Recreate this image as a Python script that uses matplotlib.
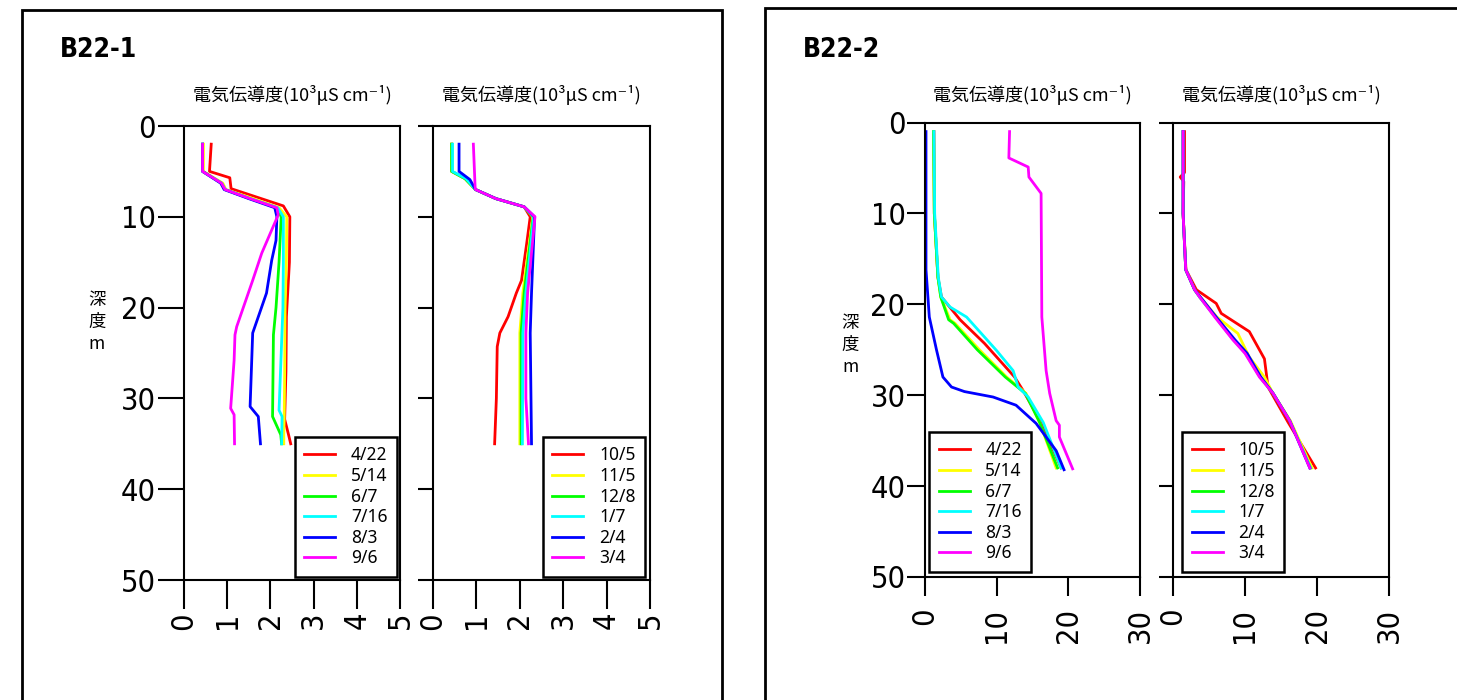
import matplotlib
matplotlib.use("Agg")
import os
import matplotlib.pyplot as plt
from matplotlib import font_manager as fm
from matplotlib.patches import Rectangle

# look for a narrow face for the digits (the reference uses a condensed font)
_files = fm.findSystemFonts()
_pick = {}
for f in _files:
    b = os.path.basename(f)
    _pick.setdefault(b, f)
NARROW_FILE = None
NARROW_BOLD_FILE = None
for cand in ['LiberationSansNarrow-Regular.ttf', 'DejaVuSansCondensed.ttf']:
    if cand in _pick:
        NARROW_FILE = _pick[cand]
        break
for cand in ['LiberationSansNarrow-Bold.ttf', 'DejaVuSansCondensed-Bold.ttf']:
    if cand in _pick:
        NARROW_BOLD_FILE = _pick[cand]
        break


def narrow(size, bold=False):
    f = NARROW_BOLD_FILE if bold else NARROW_FILE
    if f:
        return fm.FontProperties(fname=f, size=size)
    return fm.FontProperties(family='DejaVu Sans', size=size,
                             weight='bold' if bold else 'normal')


JP = ['Noto Sans CJK JP', 'DejaVu Sans']

W, H = 1457, 700

colors = ['#ff0000', '#ffff00', '#00ff00', '#00ffff', '#0000ff', '#ff00ff']
labels_a = ['4/22', '5/14', '6/7', '7/16', '8/3', '9/6']
labels_b = ['10/5', '11/5', '12/8', '1/7', '2/4', '3/4']
header = '電気伝導度(10³μS cm⁻¹)'
depth_ticks = [0, 10, 20, 30, 40, 50]
ticks_1 = [0, 1, 2, 3, 4, 5]
ticks_2 = [0, 10, 20, 30]

# ---- B22-1, left panel (4/22 .. 9/6) : depth (m), EC (10^3 uS/cm)
b1a_depth = [
    [2, 5, 5.7, 6.9, 8.8, 10, 15, 21, 27, 32.3, 34, 35],
    [2, 5, 6.3, 7, 8, 9, 10, 15, 20, 27, 32, 34, 35],
    [2, 5, 6.3, 7, 8, 9, 10, 15, 20, 23, 32, 34, 35],
    [2, 5, 6.3, 7, 8, 9, 10, 15, 20, 31.3, 32, 35],
    [2, 5, 6.3, 7, 8, 9, 10, 12.6, 14.8, 18.4, 22.8, 30.9, 32, 35],
    [2, 5, 6.3, 7, 8, 9, 9.8, 14, 17, 22.1, 23, 25.8, 31.1, 31.8, 35],
]
b1a_val = [
    [0.63, 0.59, 1.06, 1.09, 2.3, 2.45, 2.44, 2.37, 2.36, 2.33, 2.42, 2.47],
    [0.45, 0.45, 0.9, 0.97, 1.6, 2.2, 2.38, 2.37, 2.34, 2.33, 2.32, 2.31, 2.31],
    [0.43, 0.43, 0.87, 0.95, 1.53, 2.15, 2.25, 2.2, 2.13, 2.07, 2.05, 2.24, 2.26],
    [0.43, 0.43, 0.87, 0.95, 1.53, 2.17, 2.3, 2.3, 2.29, 2.2, 2.27, 2.26],
    [0.43, 0.43, 0.85, 0.93, 1.5, 2.1, 2.15, 2.13, 2.03, 1.91, 1.59, 1.53, 1.72, 1.77],
    [0.43, 0.43, 0.87, 0.95, 1.53, 2.15, 2.18, 1.8, 1.59, 1.22, 1.18, 1.16, 1.08, 1.16, 1.17],
]

# ---- B22-1, right panel (10/5 .. 3/4)
b1b_depth = [
    [2, 5, 5.8, 7, 8, 8.9, 10, 12.9, 17, 18.4, 21, 22.8, 24.3, 30, 35],
    [2, 5, 5.8, 7, 8, 8.9, 10, 18.4, 22.8, 35],
    [2, 5, 5.8, 7, 8, 8.9, 10, 18.4, 22.8, 35],
    [2, 5, 5.8, 7, 8, 8.9, 10, 18.4, 22.8, 35],
    [2, 5, 5.9, 7, 8, 8.9, 10, 18.4, 22.8, 35],
    [2, 6.7, 7, 8, 8.9, 10, 18.4, 22.8, 30, 35],
]
b1b_val = [
    [0.43, 0.43, 0.74, 0.98, 1.45, 2.1, 2.24, 2.16, 2.04, 1.92, 1.73, 1.54, 1.48, 1.46, 1.42],
    [0.43, 0.43, 0.74, 0.98, 1.45, 2.1, 2.3, 2.07, 2.0, 2.0],
    [0.43, 0.43, 0.74, 0.98, 1.45, 2.1, 2.31, 2.1, 2.03, 2.03],
    [0.45, 0.45, 0.76, 0.98, 1.45, 2.1, 2.32, 2.14, 2.07, 2.06],
    [0.6, 0.6, 0.85, 0.98, 1.45, 2.1, 2.34, 2.27, 2.24, 2.27],
    [0.93, 0.97, 0.98, 1.45, 2.1, 2.35, 2.18, 2.14, 2.14, 2.2],
]

# ---- B22-2, left panel (4/22 .. 9/6)
b2a_depth = [
    [1, 10, 17, 19.2, 21.7, 24.3, 28, 29.5, 33, 38],
    [1, 10, 17, 19.2, 21.7, 22.1, 25, 28, 29.8, 33, 38],
    [1, 10, 17, 19.2, 21.7, 22.1, 25, 28, 29.8, 33, 38],
    [1, 10, 17, 19.2, 20.3, 21.4, 23.6, 25.1, 27.3, 29.1, 30.2, 33, 38],
    [1, 16.2, 21.4, 25, 28, 29.1, 29.6, 30.2, 31.1, 33.1, 36.1, 38.2],
    [1, 3.9, 4.9, 6.0, 7.8, 21.4, 27.3, 29.8, 32.8, 33.3, 34.6, 36.4, 38.1],
]
b2a_val = [
    [1.25, 1.3, 1.8, 2.3, 4.9, 8.3, 12.5, 13.7, 16.2, 19.0],
    [1.2, 1.3, 1.8, 2.2, 3.5, 4.2, 7.6, 11.4, 14.1, 16.0, 18.3],
    [1.2, 1.3, 1.8, 2.2, 3.3, 4.0, 7.3, 11.2, 14.0, 16.0, 18.5],
    [1.25, 1.35, 1.85, 2.3, 3.5, 5.8, 8.3, 10.0, 12.3, 13.0, 14.4, 16.5, 19.0],
    [0.14, 0.14, 0.6, 1.6, 2.5, 3.7, 5.5, 9.5, 12.7, 15.5, 18.3, 19.4],
    [11.8, 11.7, 14.4, 14.5, 16.2, 16.3, 16.9, 17.4, 18.3, 18.75, 18.75, 19.7, 20.6],
]

# ---- B22-2, right panel (10/5 .. 3/4)
b2b_depth = [
    [1, 5.5, 6, 6.5, 10, 16.2, 18.4, 19.9, 21, 23, 26, 29.1, 33, 38],
    [1, 10, 16.2, 18.4, 19.2, 21.4, 23.2, 25.8, 28, 29.8, 32.8, 38],
    [1, 10, 16.2, 18.4, 19.2, 21.4, 23.9, 25.4, 28, 29.8, 32.8, 38],
    [1, 10, 16.2, 18.4, 19.2, 21.4, 23.9, 25.4, 28, 29.8, 32.8, 38],
    [1, 10, 16.2, 18.4, 19.2, 21.4, 23.9, 25.4, 28, 29.8, 32.8, 38],
    [1, 10, 16.2, 18.4, 19.2, 21.4, 23.9, 25.4, 28, 29.8, 32.8, 38],
]
b2b_val = [
    [1.6, 1.6, 1.0, 1.5, 1.4, 1.8, 3.25, 6.0, 6.7, 10.6, 12.7, 13.2, 16.0, 19.8],
    [1.4, 1.4, 1.77, 3.0, 3.8, 6.1, 9.0, 10.6, 12.7, 13.9, 16.3, 19.3],
    [1.4, 1.4, 1.77, 3.0, 3.7, 5.9, 8.4, 10.1, 12.1, 13.9, 16.2, 19.1],
    [1.4, 1.4, 1.77, 3.0, 3.7, 5.9, 8.4, 10.1, 12.1, 13.9, 16.2, 19.1],
    [1.4, 1.4, 1.77, 3.0, 3.8, 6.0, 8.6, 10.3, 12.2, 13.9, 16.2, 19.0],
    [1.4, 1.4, 1.77, 3.0, 3.7, 5.8, 8.3, 10.0, 12.0, 13.9, 16.2, 19.0],
]

fig = plt.figure(figsize=(W / 100, H / 100), dpi=100)


def rect(left, right, top, bottom):
    return [left / W, 1 - bottom / H, (right - left) / W, (bottom - top) / H]


def panel(box, depths, vals, labels, xmax, xticks, ylabels, ylen, xlen, xpad, leg_anchor, leg_loc):
    ax = fig.add_axes(box)
    for d, v, c, lab in zip(depths, vals, colors, labels):
        ax.plot(v, d, color=c, lw=2, label=lab)
    ax.set_xlim(0, xmax)
    ax.set_ylim(50, 0)
    ax.set_xticks(xticks)
    ax.set_xticklabels([str(t) for t in xticks], rotation=90, fontproperties=narrow(22))
    ax.set_yticks(depth_ticks)
    if ylabels:
        ax.set_yticklabels([str(t) for t in depth_ticks], fontproperties=narrow(22))
    else:
        ax.set_yticklabels([])
    ax.tick_params(axis='x', length=xlen, width=1.5, pad=xpad)
    ax.tick_params(axis='y', length=ylen, width=1.5, pad=1)
    for s in ax.spines.values():
        s.set_linewidth(1.5)
    leg = ax.legend(loc=leg_loc, bbox_to_anchor=leg_anchor, borderaxespad=0,
                    frameon=True, fancybox=False, framealpha=1, edgecolor='black',
                    prop={'family': 'Noto Sans', 'size': 12.5},
                    handlelength=1.8, handletextpad=0.9, labelspacing=0.15,
                    borderpad=0.55)
    leg.get_frame().set_linewidth(1.8)
    return ax


# B22-1
a1 = panel(rect(184, 400, 126, 580), b1a_depth, b1a_val, labels_a, 5, ticks_1, True,
           19, 21, 2, (1 - 3 / 216, 3 / 454), 'lower right')
a2 = panel(rect(433, 650, 126, 580), b1b_depth, b1b_val, labels_b, 5, ticks_1, False,
           11, 21, 2, (1 - 5 / 217, 3 / 454), 'lower right')
# B22-2
a3 = panel(rect(925, 1140, 122.5, 577), b2a_depth, b2a_val, labels_a, 30, ticks_2, True,
           13, 14, 8, (4 / 215, 5 / 454), 'lower left')
a4 = panel(rect(1173, 1389, 122.5, 577), b2b_depth, b2b_val, labels_b, 30, ticks_2, False,
           10, 14, 8, (9 / 216, 5 / 454), 'lower left')

for ax, off in [(a1, 31), (a2, 31), (a3, 27.5), (a4, 27.5)]:
    ax.text(0.5, 1 + off / 454, header, transform=ax.transAxes, ha='center', va='center',
            family=JP, fontsize=13)

fig.text(60 / W, 1 - 50 / H, 'B22-1', fontproperties=narrow(19, bold=True),
         ha='left', va='center')
fig.text(803 / W, 1 - 50 / H, 'B22-2', fontproperties=narrow(19, bold=True),
         ha='left', va='center')
fig.text(97 / W, 1 - 322 / H, '深\n度\nm', family=JP, fontsize=12.5, ha='center',
         va='center', linespacing=1.3)
fig.text(850 / W, 1 - 345 / H, '深\n度\nm', family=JP, fontsize=12.5, ha='center',
         va='center', linespacing=1.3)

# outer frames of the two charts
fig.add_artist(Rectangle((22 / W, -0.1), 700 / W, 1.1 - 10 / H, transform=fig.transFigure,
                         fill=False, lw=2, ec='black'))
fig.add_artist(Rectangle((765 / W, -0.1), 800 / W, 1.1 - 8 / H, transform=fig.transFigure,
                         fill=False, lw=2, ec='black'))

fig.savefig('out.png', dpi=100)
